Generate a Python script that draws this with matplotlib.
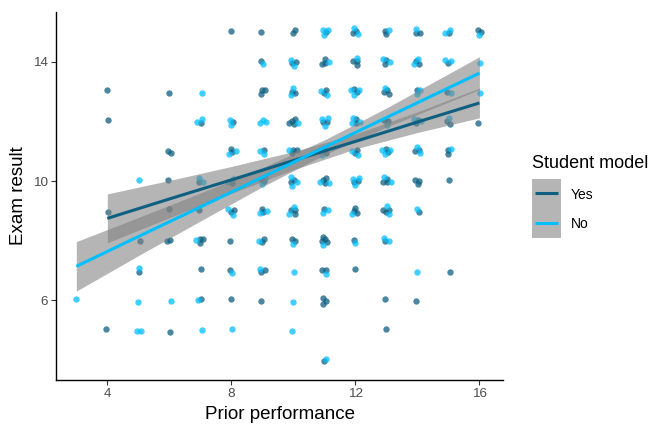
import numpy as np
import matplotlib
matplotlib.use("Agg")
import matplotlib.pyplot as plt
from matplotlib.patches import Rectangle
from matplotlib.lines import Line2D

plt.rcParams['font.family'] = ['Liberation Sans', 'DejaVu Sans']

# ---------------- data (cells of the grid and number of students) ----------------
# Student model = "Yes"
yes_cx = [8, 9, 10, 11, 12, 13, 14, 15, 16,
          9, 10, 11, 12, 13, 14, 15,
          4, 6, 9, 10, 11, 12, 13, 14, 15,
          4, 7, 8, 10, 11, 12, 13, 14, 15, 16,
          6, 8, 9, 10, 11, 12, 13, 14, 15,
          6, 7, 8, 9, 10, 11, 12, 13, 14, 15,
          4, 6, 7, 8, 9, 10, 11, 12, 13, 14,
          5, 6, 7, 8, 9, 10, 11, 12, 13,
          5, 7, 8, 9, 11, 12, 15,
          7, 8, 9, 11, 13, 14,
          4, 6, 13,
          11]
yes_cy = [15] * 9 + [14] * 7 + [13] * 9 + [12] * 10 + [11] * 9 + [10] * 10 + \
         [9] * 10 + [8] * 9 + [7] * 7 + [6] * 6 + [5] * 3 + [4] * 1
yes_n = [1, 1, 2, 1, 2, 2, 2, 1, 2,
         1, 2, 3, 3, 2, 2, 1,
         1, 1, 3, 2, 2, 2, 3, 1, 1,
         1, 1, 1, 4, 2, 2, 2, 2, 2, 1,
         2, 2, 1, 3, 2, 2, 2, 2, 2,
         1, 1, 1, 2, 2, 3, 2, 3, 3, 1,
         1, 1, 1, 2, 2, 3, 1, 3, 3, 1,
         1, 2, 3, 1, 2, 2, 4, 1, 1,
         1, 1, 1, 2, 2, 1, 1,
         1, 1, 1, 3, 1, 1,
         1, 1, 1,
         1]

# Student model = "No"
no_cx = [11, 12, 13, 14, 15, 16,
         9, 10, 11, 12, 13, 14, 15, 16,
         7, 10, 11, 12, 13, 14, 15, 16,
         7, 8, 9, 10, 11, 12, 13, 14, 15,
         8, 9, 10, 11, 12, 13, 14, 15,
         5, 7, 8, 9, 10, 11, 12, 13,
         8, 9, 10, 11, 12, 13, 14,
         7, 9, 10, 11, 12, 13,
         5, 8, 9, 10, 11, 14,
         3, 5, 6, 7, 10,
         5, 7, 8, 10,
         11]
no_cy = [15] * 6 + [14] * 8 + [13] * 8 + [12] * 9 + [11] * 8 + [10] * 8 + \
        [9] * 7 + [8] * 6 + [7] * 6 + [6] * 5 + [5] * 4 + [4] * 1
no_n = [3, 2, 1, 1, 2, 1,
        1, 2, 1, 1, 2, 2, 2, 1,
        1, 2, 2, 3, 1, 2, 1, 1,
        2, 2, 3, 1, 3, 3, 1, 2, 1,
        2, 2, 1, 2, 2, 3, 2, 1,
        1, 2, 2, 2, 3, 2, 3, 2,
        2, 2, 2, 2, 1, 2, 1,
        1, 1, 1, 1, 1, 2,
        1, 1, 1, 1, 1, 1,
        1, 1, 1, 1, 1,
        2, 1, 1, 1,
        1]

# fitted lines with 95% confidence band
yes_fit_x = [4, 6, 8, 10, 12, 14, 16]
yes_fit_y = [8.75, 9.40, 10.04, 10.69, 11.33, 11.98, 12.62]
yes_ci_lo = [7.93, 8.77, 9.59, 10.38, 11.08, 11.63, 12.12]
yes_ci_hi = [9.57, 10.02, 10.49, 10.99, 11.58, 12.32, 13.12]

no_fit_x = [3, 5, 7, 9, 11, 13, 16]
no_fit_y = [7.14, 8.14, 9.13, 10.13, 11.13, 12.13, 13.62]
no_ci_lo = [6.31, 7.50, 8.66, 9.81, 10.88, 11.81, 13.07]
no_ci_hi = [7.97, 8.78, 9.60, 10.45, 11.38, 12.45, 14.17]

groups = ["Yes", "No"]
x_ticks = [4, 8, 12, 16]
y_ticks = [6, 10, 14]

col_yes = "#0E5F80"
col_no = "#00BFFF"

# ---------------- figure ----------------
W, H = 657, 426
fig = plt.figure(figsize=(W / 100, H / 100), dpi=100)
ax = fig.add_axes([56 / W, 1 - 380 / H, (503.3 - 56) / W, (380 - 11.7) / H])

counter = {}
golden = 2.39996


def jittered(cx, cy, n):
    xs = np.repeat(np.array(cx, float), n)
    ys = np.repeat(np.array(cy, float), n)
    jx, jy = [], []
    for x, y in zip(xs, ys):
        k = counter.get((x, y), 0)
        counter[(x, y)] = k + 1
        r = min(0.05 + 0.03 * k, 0.16)
        th = k * golden + (x * 1.3 + y * 0.7)
        jx.append(x + r * np.cos(th))
        jy.append(y + r * np.sin(th))
    return np.array(jx), np.array(jy)


yx, yy = jittered(yes_cx, yes_cy, yes_n)
nx, ny = jittered(no_cx, no_cy, no_n)

ax.scatter(yx, yy, s=21, color=col_yes, alpha=0.75, linewidths=0, zorder=2)
ax.scatter(nx, ny, s=21, color=col_no, alpha=0.75, linewidths=0, zorder=2)

band_col = "#808080"
ax.fill_between(yes_fit_x, yes_ci_lo, yes_ci_hi, color=band_col, alpha=0.58, linewidth=0, zorder=3)
ax.fill_between(no_fit_x, no_ci_lo, no_ci_hi, color=band_col, alpha=0.58, linewidth=0, zorder=3)
ax.plot(yes_fit_x, yes_fit_y, color=col_yes, lw=2.2, zorder=4, solid_capstyle='butt')
ax.plot(no_fit_x, no_fit_y, color=col_no, lw=2.2, zorder=4, solid_capstyle='butt')

ax.set_xlim(2.345, 16.77)
ax.set_ylim(3.33, 15.68)
ax.set_xticks(x_ticks)
ax.set_yticks(y_ticks)
ax.set_xticklabels([str(t) for t in x_ticks])
ax.set_yticklabels([str(t) for t in y_ticks])
ax.tick_params(axis='both', length=3.6, width=0.8, color='#333333',
               labelsize=9.7, labelcolor='#4D4D4D', pad=2.5)
for s in ['top', 'right']:
    ax.spines[s].set_visible(False)
for s in ['left', 'bottom']:
    ax.spines[s].set_linewidth(1.0)
    ax.spines[s].set_color('black')

ax.set_xlabel("Prior performance", fontsize=13.5, labelpad=4)
ax.set_ylabel("Exam result", fontsize=13.5, labelpad=4)

# ---------------- legend (drawn manually in figure pixels) ----------------
def fx(px):
    return px / W


def fy(py):
    return 1 - py / H


fig.text(fx(532.5), fy(168), "Student model", fontsize=13, ha='left', va='baseline')
fig.patches.append(Rectangle((fx(531.7), fy(238.3)), fx(560.7) - fx(531.7), fy(179.3) - fy(238.3),
                             transform=fig.transFigure, facecolor=band_col, alpha=0.58,
                             edgecolor='none'))
leg_cols = [col_yes, col_no]
leg_y = [193.3, 222.7]
for g, c, py in zip(groups, leg_cols, leg_y):
    fig.lines.append(Line2D([fx(535), fx(558)], [fy(py), fy(py)], transform=fig.transFigure,
                            color=c, lw=2.2, solid_capstyle='butt'))
    fig.text(fx(570.5), fy(py), g, fontsize=10, ha='left', va='center_baseline')

fig.savefig("out.png", dpi=100)
